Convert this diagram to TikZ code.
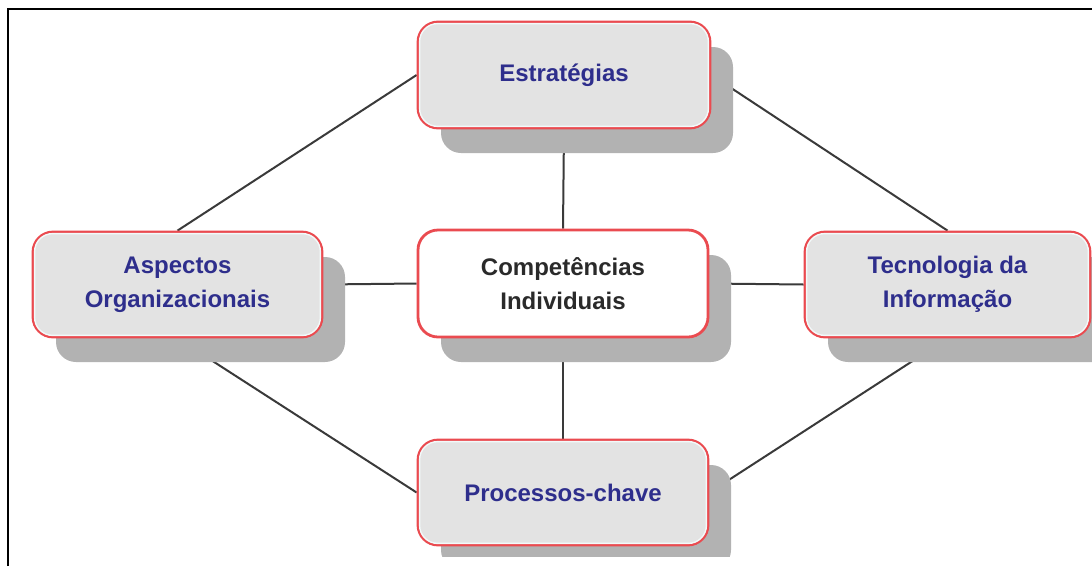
\documentclass[tikz,border=0pt]{standalone}
\usepackage{fontspec}
\setmainfont{Liberation Sans}
\usetikzlibrary{shadows,backgrounds}
\definecolor{boxred}{HTML}{EA4B50}
\definecolor{boxfill}{HTML}{E3E3E3}
\definecolor{shadowc}{HTML}{B2B2B2}
\definecolor{navy}{HTML}{2E2E8C}
\definecolor{darktext}{HTML}{2A2A2A}
\definecolor{linec}{HTML}{3A3A3A}
\definecolor{innerc}{HTML}{F2FAFA}
\tikzset{
  box/.style={draw=boxred, line width=2.8pt, fill=boxfill, rounded corners=20pt,
    minimum width=290pt, minimum height=105pt, align=center,
    font=\fontsize{24}{34}\selectfont\bfseries, text=navy,
    general shadow={fill=shadowc, shadow xshift=23pt, shadow yshift=-25pt}},
  centerbox/.style={box, fill=white, text=darktext},
  inner/.style={draw=innerc, line width=1.4pt, rounded corners=18pt},
  conn/.style={draw=linec, line width=2pt},
  frame/.style={draw=black, line width=2.2pt}
}
\begin{document}
\begin{tikzpicture}[x=1pt,y=-1pt]
\useasboundingbox (0,0) rectangle (1092,566);
\begin{scope}
\clip (0,0) rectangle (1092,556);
\node[box, minimum width=292pt, minimum height=106pt] (E) at (564,75) {Estratégias};
\node[box, minimum width=289pt] (A) at (177.5,284.5) {Aspectos\\Organizacionais};
\node[centerbox, minimum height=107pt] (C) at (563,283.5) {Competências\\Individuais};
\node[box, minimum width=285pt] (T) at (947.5,284.5) {Tecnologia da\\Informação};
\node[box] (P) at (563,492.5) {Processos-chave};
\foreach \n in {E,A,T,P}{
  \draw[inner] ([shift={(3pt,-3pt)}]\n.north west) rectangle ([shift={(-3pt,3pt)}]\n.south east);
}
\begin{scope}[on background layer]
\draw[conn] (E.west) -- (A.north);
\draw[conn] (E.east) -- (T.north);
\draw[conn] (E.south) -- (C.north);
\draw[conn] (A.east) -- (C.west);
\draw[conn] (C.east) -- (T.west);
\draw[conn] (C.south) -- (P.north);
\draw[conn] (A.south) -- (P.west);
\draw[conn] (T.south) -- (P.east);
\end{scope}
\end{scope}
\coordinate (f1) at (8,566);
\coordinate (f2) at (8,9);
\coordinate (f3) at (1092,9);
\draw[frame] (f1) -- (f2) -- (f3);
\end{tikzpicture}
\end{document}
